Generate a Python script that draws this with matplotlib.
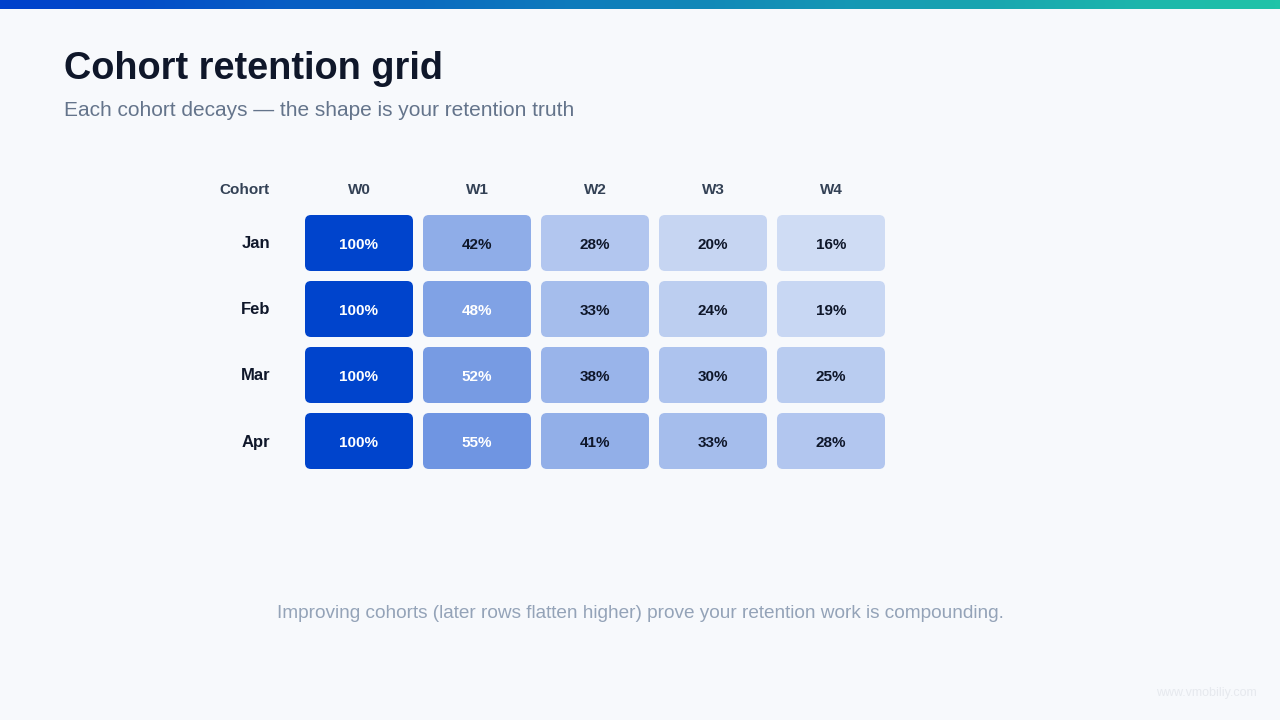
import matplotlib
matplotlib.use("Agg")
import matplotlib.pyplot as plt
import numpy as np
from matplotlib.patches import FancyBboxPatch
from matplotlib.colors import to_rgb

plt.rcParams["font.family"] = ["Liberation Sans", "DejaVu Sans"]

cohorts = ["Jan", "Feb", "Mar", "Apr"]
weeks = ["W0", "W1", "W2", "W3", "W4"]
jan = [100, 42, 28, 20, 16]
feb = [100, 48, 33, 24, 19]
mar = [100, 52, 38, 30, 25]
apr = [100, 55, 41, 33, 28]
retention = [jan, feb, mar, apr]

BG = "#F7F9FC"
BLUE = "#0044CC"
W, H = 1280, 720

fig = plt.figure(figsize=(12.8, 7.2), dpi=100, facecolor=BG)
ax = fig.add_axes([0, 0, 1, 1])
ax.set_xlim(0, W); ax.set_ylim(H, 0); ax.axis("off")
ax.set_facecolor(BG)

# top gradient bar
grad = np.linspace(0, 1, 256).reshape(1, -1)
c0, c1 = np.array(to_rgb("#0040CC")), np.array(to_rgb("#20C4A8"))
img = c0[None, None, :] * (1 - grad[..., None]) + c1[None, None, :] * grad[..., None]
ax.imshow(img, extent=(0, W, 9, 0), aspect="auto", zorder=1)

ax.text(64, 69, "Cohort retention grid", fontsize=27.3, fontweight="bold", color="#0F172A", va="center")
ax.text(64, 111, "Each cohort decays \u2014 the shape is your retention truth", fontsize=15, color="#64748B", va="center")

x0, y0, cw, ch, gx, gy = 305, 215, 108, 56, 10, 10
bg = np.array(to_rgb(BG)); blue = np.array(to_rgb(BLUE))

ax.text(270, 190, "Cohort", fontsize=11, fontweight="bold", color="#334155", ha="right", va="center")
for j, w in enumerate(weeks):
    ax.text(x0 + j * (cw + gx) + cw / 2, 190, w, fontsize=11, fontweight="bold", color="#334155", ha="center", va="center")

for i, (name, row) in enumerate(zip(cohorts, retention)):
    y = y0 + i * (ch + gy)
    ax.text(270, y + ch / 2 + 1, name, fontsize=12, fontweight="bold", color="#0F172A", ha="right", va="center")
    for j, v in enumerate(row):
        x = x0 + j * (cw + gx)
        a = v / 100
        col = bg * (1 - a) + blue * a
        ax.add_patch(FancyBboxPatch((x, y), cw, ch, boxstyle="round,pad=0,rounding_size=6",
                                    fc=col, ec="none", zorder=2))
        tc = "white" if v >= 45 else "#0F172A"
        ax.text(x + cw / 2, y + ch / 2 + 2, f"{v}%", fontsize=11, fontweight="bold", color=tc,
                ha="center", va="center", zorder=3)

ax.text(640, 614, "Improving cohorts (later rows flatten higher) prove your retention work is compounding.",
        fontsize=13.7, color="#94A3B8", ha="center", va="center")
ax.text(1257, 693, "www.vmobiliy.com", fontsize=9, color="#E6E9EE", ha="right", va="center")

fig.savefig("out.png", dpi=100, facecolor=BG)
